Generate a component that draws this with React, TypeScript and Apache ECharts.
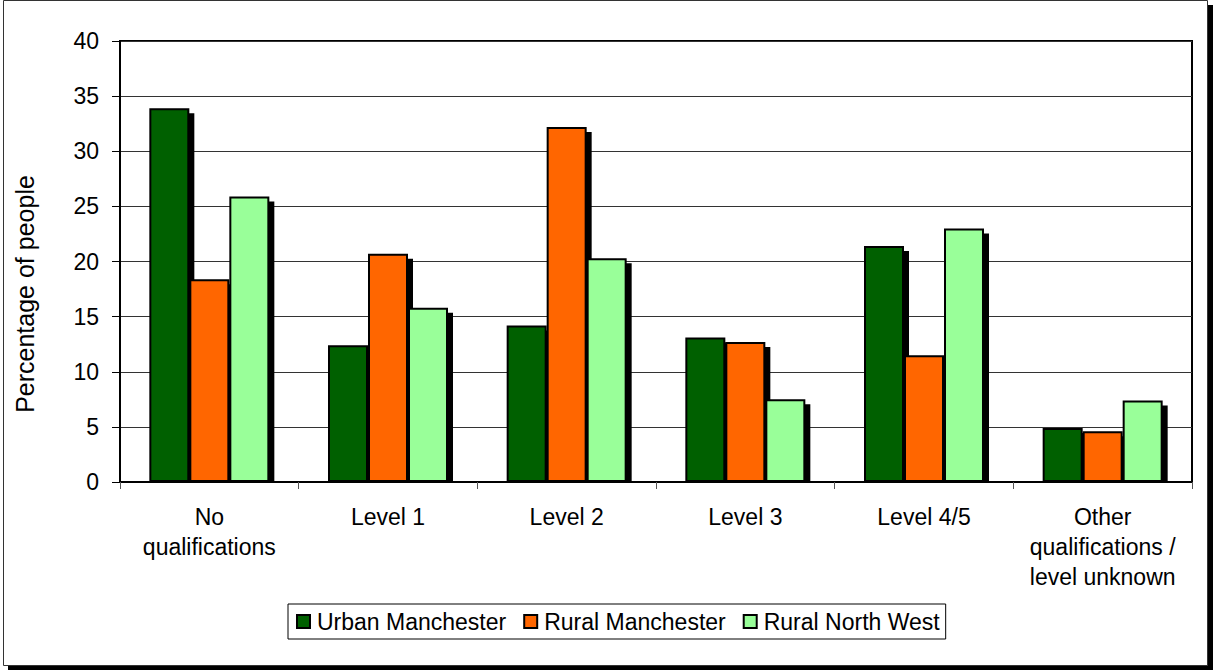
import React, { useEffect, useRef } from "react";
import * as echarts from "echarts";

const categories = [
  "No\nqualifications",
  "Level 1",
  "Level 2",
  "Level 3",
  "Level 4/5",
  "Other\nqualifications /\nlevel unknown",
];
const seriesNames = ["Urban Manchester", "Rural Manchester", "Rural North West"];
const urbanManchester = [33.9, 12.4, 14.2, 13.1, 21.4, 4.9];
const ruralManchester = [18.4, 20.7, 32.2, 12.7, 11.5, 4.6];
const ruralNorthWest = [25.9, 15.8, 20.3, 7.5, 23.0, 7.4];
const colors = ["#006000", "#FF6600", "#99FF99"];
const yTicks = { min: 0, max: 40, interval: 5 };

const FONT = "'Liberation Sans', Arial, sans-serif";

export default function App() {
  const ref = useRef<HTMLDivElement>(null);
  useEffect(() => {
    if (!ref.current) return;
    const chart = echarts.init(ref.current, null, { renderer: "svg" });
    const data = [urbanManchester, ruralManchester, ruralNorthWest];
    chart.setOption({
      animation: false,
      backgroundColor: "#fff",
      textStyle: { fontFamily: FONT },
      graphic: [
        {
          type: "rect",
          z: -10,
          silent: true,
          shape: { x: 8, y: 5, width: 1205, height: 665 },
          style: { fill: "#000" },
        },
        {
          type: "rect",
          z: -9,
          silent: true,
          shape: { x: 3.5, y: 0.5, width: 1204, height: 665 },
          style: { fill: "#fff", stroke: "#333", lineWidth: 1 },
        },
        {
          type: "rect",
          z: 3,
          silent: true,
          shape: { x: 122, y: 483, width: 1068, height: 7 },
          style: { fill: "#fff" },
        },
        {
          type: "text",
          x: 25,
          y: 294,
          rotation: Math.PI / 2,
          style: {
            text: "Percentage of people",
            fontSize: 25,
            fontFamily: FONT,
            fill: "#000",
            align: "center",
            verticalAlign: "middle",
          },
        },
      ],
      grid: {
        left: 120,
        right: 21,
        top: 41,
        bottom: 188,
        show: true,
        borderColor: "#000",
        borderWidth: 2,
        backgroundColor: "transparent",
      },
      legend: {
        data: seriesNames,
        left: 288,
        top: 604,
        orient: "horizontal",
        padding: [6, 6, 6, 8],
        itemGap: 17,
        itemWidth: 13,
        itemHeight: 13,
        borderColor: "#000",
        borderWidth: 1,
        icon: "rect",
        itemStyle: { borderColor: "#000", borderWidth: 2, shadowBlur: 0, shadowOffsetX: 0, shadowOffsetY: 0, shadowColor: "transparent" },
        textStyle: { fontSize: 23, fontFamily: FONT, color: "#000", padding: [0, 0, 0, 2] },
      },
      xAxis: {
        type: "category",
        data: categories,
        z: 5,
        axisLine: { lineStyle: { color: "#000", width: 2 } },
        axisTick: { show: true, length: 7, lineStyle: { color: "#555", width: 1 } },
        axisLabel: {
          interval: 0,
          fontSize: 23,
          lineHeight: 30,
          color: "#000",
          margin: 20,
          fontFamily: FONT,
        },
      },
      yAxis: {
        type: "value",
        min: yTicks.min,
        max: yTicks.max,
        interval: yTicks.interval,
        axisLine: { show: true, lineStyle: { color: "#000", width: 2 } },
        axisTick: { show: true, length: 8, lineStyle: { color: "#000", width: 1 } },
        axisLabel: { fontSize: 23, color: "#000", margin: 21, fontFamily: FONT },
        splitLine: { show: true, lineStyle: { color: "#333", width: 1 } },
      },
      series: seriesNames.map((name, i) => ({
        name,
        type: "bar",
        data: data[i],
        barWidth: 40,
        barGap: "0%",
        itemStyle: {
          color: colors[i],
          borderColor: "#000",
          borderWidth: 2,
          shadowColor: "#000",
          shadowBlur: 0,
          shadowOffsetX: 5,
          shadowOffsetY: 5,
        },
      })),
    });
    return () => chart.dispose();
  }, []);
  return (
    <div
      ref={ref}
      style={{ position: "fixed", left: 0, top: 0, width: 1213, height: 670 }}
    />
  );
}
